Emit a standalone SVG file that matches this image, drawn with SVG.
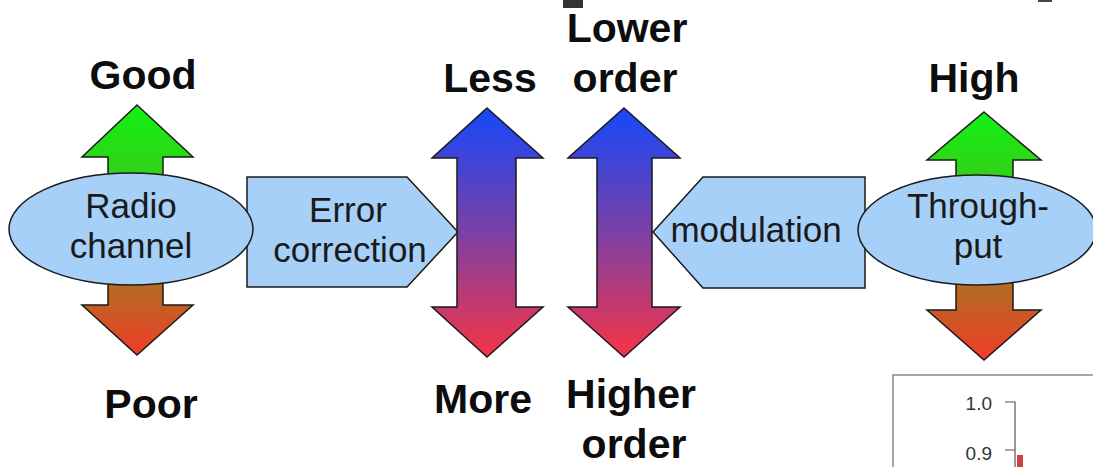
<svg xmlns="http://www.w3.org/2000/svg" width="1093" height="467" viewBox="0 0 1093 467">
<defs>
<linearGradient id="gGreen" x1="0" y1="0" x2="0" y2="1"><stop offset="0" stop-color="#12f212"/><stop offset="1" stop-color="#3ec41c"/></linearGradient>
<linearGradient id="gRed" x1="0" y1="0" x2="0" y2="1"><stop offset="0" stop-color="#9c7c22"/><stop offset="1" stop-color="#f23c28"/></linearGradient>
<linearGradient id="gBR" x1="0" y1="0" x2="0" y2="1"><stop offset="0" stop-color="#1448fa"/><stop offset="0.5" stop-color="#7c40a6"/><stop offset="1" stop-color="#f63444"/></linearGradient>
<style>
.sh{stroke:#1a1a1a;stroke-width:1.5;stroke-linejoin:miter}
.box{fill:#a6d0f8}
.t{font-family:"Liberation Sans",Arial,sans-serif;font-size:35px;fill:#1a1a1a;text-anchor:middle}
.lb{font-family:"Liberation Sans",Arial,sans-serif;font-size:41px;font-weight:bold;fill:#0d0d0d;text-anchor:middle}
.ax{font-family:"Liberation Sans",Arial,sans-serif;font-size:19px;fill:#333;text-anchor:end}
</style>
</defs>
<rect width="1093" height="467" fill="#ffffff"/>
<rect x="563" y="0" width="20" height="8" fill="#333"/>
<rect x="1038" y="0" width="14" height="2" fill="#444"/>

<g id="connectors">
<polygon class="sh" fill="url(#gGreen)" points="137,105 193,157 163,157 163,200 108,200 108,157 82,157"/>
<polygon class="sh" fill="url(#gRed)" points="108,260 163,260 163,305 193,305 137,355 82,305 108,305"/>
<polygon class="sh" fill="url(#gGreen)" points="984,112 1041,160 1013,160 1013,200 956,200 956,160 927,160"/>
<polygon class="sh" fill="url(#gRed)" points="956,260 1013,260 1013,310 1041,310 984,360 927,310 956,310"/>
</g>

<g id="error-correction">
<polygon class="sh box" points="247,177 407,177 458,232 407,287 247,287"/>
<text class="t" x="348" y="222">Error</text>
<text class="t" x="350" y="262">correction</text>
</g>

<g id="modulation">
<polygon class="sh box" points="653,232 703,177 865,177 865,288 703,288"/>
<text class="t" x="756" y="242">modulation</text>
</g>

<g id="radio-channel">
<ellipse class="sh box" cx="131" cy="229" rx="122" ry="56"/>
<text class="t" x="131" y="218">Radio</text>
<text class="t" x="131" y="258">channel</text>
</g>

<g id="throughput">
<ellipse class="sh box" cx="977" cy="230" rx="119" ry="55"/>
<text class="t" x="978" y="218">Through-</text>
<text class="t" x="978" y="258">put</text>
</g>

<g id="error-arrow">
<polygon class="sh" fill="url(#gBR)" points="487,108 543,158 516,158 516,307 543,307 487,357 432,307 457,307 457,158 432,158"/>
</g>

<g id="order-arrow">
<polygon class="sh" fill="url(#gBR)" points="624,108 680,158 652,158 652,307 680,307 624,357 568,307 597,307 597,158 568,158"/>
</g>

<g id="labels">
<text class="lb" x="143" y="89">Good</text>
<text class="lb" x="151" y="418">Poor</text>
<text class="lb" x="490" y="92">Less</text>
<text class="lb" x="483" y="413">More</text>
<text class="lb" x="627" y="42">Lower</text>
<text class="lb" x="625" y="92">order</text>
<text class="lb" x="631" y="408">Higher</text>
<text class="lb" x="634" y="458">order</text>
<text class="lb" x="974" y="92">High</text>
</g>

<g id="inset-chart">
<rect x="893" y="375" width="210" height="100" fill="#ffffff" stroke="#8a8a8a" stroke-width="1.5"/>
<text class="ax" x="992" y="410">1.0</text>
<text class="ax" x="992" y="460">0.9</text>
<path d="M1005,402 H1015 V467 M1005,450 H1015" fill="none" stroke="#555" stroke-width="1.2"/>
<rect x="1017" y="455" width="6" height="12" fill="#d04040"/>
</g>
</svg>
